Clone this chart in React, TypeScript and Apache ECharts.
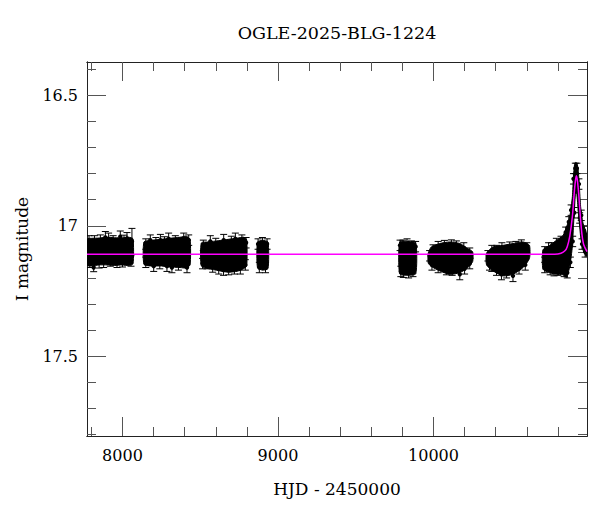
import React, { useEffect, useRef } from "react";
import * as echarts from "echarts";

// ---- Data ----
const TITLE = "OGLE-2025-BLG-1224";
const X_NAME = "HJD - 2450000";
const Y_NAME = "I magnitude";

const X_MIN = 7772;
const X_MAX = 10987;
const Y_MIN = 16.372;
const Y_MAX = 17.806;

const xMajorTicks = [8000, 9000, 10000];
const xMinorTicks = [7800, 8200, 8400, 8600, 8800, 9200, 9400, 9600, 9800, 10200, 10400, 10600, 10800];
const yMajorTicks = [16.5, 17, 17.5];
const yMinorTicks = [16.4, 16.6, 16.7, 16.8, 16.9, 17.1, 17.2, 17.3, 17.4, 17.6, 17.7, 17.8];

// Season envelopes of the dense photometry cloud: [HJD, brightest mag, faintest mag]
const season1 = [[7775, 17.05, 17.152], [7800, 17.048, 17.154], [7850, 17.047, 17.15], [7900, 17.044, 17.15], [7950, 17.046, 17.152], [8000, 17.046, 17.15], [8040, 17.044, 17.152], [8068, 17.05, 17.146]];
const season2 = [[8138, 17.062, 17.148], [8180, 17.056, 17.154], [8250, 17.052, 17.154], [8300, 17.048, 17.158], [8370, 17.044, 17.16], [8410, 17.04, 17.162], [8435, 17.052, 17.15]];
const season3 = [[8507, 17.066, 17.154], [8550, 17.062, 17.164], [8620, 17.057, 17.172], [8680, 17.052, 17.178], [8740, 17.047, 17.174], [8780, 17.044, 17.164], [8799, 17.054, 17.154]];
const season4 = [[8868, 17.062, 17.16], [8900, 17.056, 17.17], [8936, 17.062, 17.164]];
const season5 = [[9782, 17.062, 17.184], [9830, 17.06, 17.19], [9886, 17.066, 17.184]];
const season6 = [[9966, 17.105, 17.143], [9986, 17.081, 17.156], [10040, 17.068, 17.173], [10104, 17.062, 17.186], [10169, 17.068, 17.18], [10222, 17.088, 17.16], [10252, 17.1, 17.137]];
const season7 = [[10341, 17.105, 17.15], [10383, 17.081, 17.173], [10447, 17.075, 17.192], [10511, 17.068, 17.186], [10576, 17.062, 17.16], [10617, 17.075, 17.125]];
const season8 = [[10704, 17.092, 17.167], [10747, 17.075, 17.18], [10790, 17.056, 17.186], [10833, 17.037, 17.188], [10855, 17.005, 17.198], [10876, 16.966, 17.156], [10893, 16.888, 17.079], [10900, 16.81, 17.0], [10907, 16.765, 16.93], [10914, 16.757, 16.87], [10922, 16.76, 16.88], [10930, 16.785, 16.94], [10938, 16.85, 16.99], [10946, 16.926, 17.041], [10961, 16.99, 17.092], [10983, 17.028, 17.118]];

// Individual measurements with visible error bars at the cloud edges: [HJD, mag, error]
const points1 = [[7785, 17.06, 0.022], [7820, 17.058, 0.02], [7858, 17.055, 0.02], [7890, 17.045, 0.023], [7911, 17.05, 0.022], [7940, 17.058, 0.02], [7986, 17.042, 0.022], [8010, 17.056, 0.02], [8029, 17.048, 0.022], [8061, 17.06, 0.05],
  [7790, 17.14, 0.02], [7815, 17.16, 0.016], [7850, 17.142, 0.02], [7879, 17.14, 0.02], [7922, 17.135, 0.02], [7965, 17.14, 0.02], [8000, 17.138, 0.02], [8029, 17.13, 0.02], [8055, 17.135, 0.02]];
const points2 = [[8150, 17.07, 0.02], [8179, 17.055, 0.02], [8215, 17.065, 0.02], [8244, 17.055, 0.022], [8270, 17.062, 0.02], [8297, 17.05, 0.022], [8340, 17.058, 0.02], [8394, 17.05, 0.022], [8426, 17.055, 0.02],
  [8150, 17.14, 0.02], [8201, 17.155, 0.02], [8240, 17.145, 0.02], [8286, 17.155, 0.02], [8318, 17.16, 0.02], [8360, 17.15, 0.02], [8415, 17.16, 0.02]];
const points3 = [[8520, 17.075, 0.02], [8565, 17.06, 0.022], [8600, 17.068, 0.02], [8651, 17.055, 0.022], [8700, 17.06, 0.02], [8726, 17.05, 0.022], [8768, 17.055, 0.02], [8795, 17.065, 0.02],
  [8515, 17.145, 0.02], [8543, 17.145, 0.02], [8580, 17.158, 0.02], [8619, 17.165, 0.02], [8650, 17.17, 0.02], [8683, 17.168, 0.02], [8720, 17.165, 0.02], [8758, 17.165, 0.02], [8790, 17.15, 0.02]];
const points4 = [[8872, 17.07, 0.02], [8900, 17.065, 0.02], [8930, 17.07, 0.02], [8880, 17.16, 0.02], [8920, 17.16, 0.02]];
const points5 = [[9785, 17.075, 0.02], [9804, 17.075, 0.02], [9830, 17.07, 0.02], [9858, 17.078, 0.02], [9885, 17.08, 0.02],
  [9790, 17.175, 0.02], [9806, 17.178, 0.02], [9840, 17.18, 0.02], [9868, 17.175, 0.02]];
const points6 = [[9975, 17.115, 0.02], [9997, 17.093, 0.02], [10030, 17.08, 0.02], [10070, 17.076, 0.02], [10115, 17.075, 0.021], [10147, 17.078, 0.02], [10195, 17.085, 0.02], [10233, 17.105, 0.02],
  [9990, 17.15, 0.02], [10030, 17.16, 0.02], [10083, 17.168, 0.02], [10120, 17.17, 0.02], [10169, 17.186, 0.021], [10200, 17.165, 0.02], [10233, 17.145, 0.02]];
const points7 = [[10350, 17.115, 0.02], [10375, 17.095, 0.02], [10406, 17.095, 0.02], [10440, 17.085, 0.02], [10490, 17.082, 0.02], [10530, 17.08, 0.02], [10565, 17.075, 0.021], [10600, 17.085, 0.02],
  [10360, 17.15, 0.02], [10375, 17.155, 0.02], [10405, 17.17, 0.02], [10437, 17.186, 0.021], [10470, 17.18, 0.02], [10511, 17.192, 0.022], [10550, 17.165, 0.02], [10590, 17.15, 0.02]];
const points8 = [[10715, 17.1, 0.02], [10740, 17.085, 0.02], [10760, 17.085, 0.02], [10790, 17.068, 0.02], [10820, 17.06, 0.02], [10850, 17.025, 0.02], [10870, 16.985, 0.02], [10885, 16.94, 0.02], [10900, 16.82, 0.02], [10912, 16.78, 0.02], [10922, 16.78, 0.02], [10935, 16.84, 0.02], [10950, 16.96, 0.02], [10968, 17.02, 0.02], [10982, 17.05, 0.02],
  [10715, 17.16, 0.02], [10750, 17.168, 0.02], [10775, 17.172, 0.02], [10800, 17.17, 0.02], [10840, 17.175, 0.02], [10860, 17.18, 0.02], [10880, 17.14, 0.02], [10895, 17.06, 0.02], [10905, 16.95, 0.02], [10940, 16.97, 0.02], [10955, 17.07, 0.02], [10975, 17.1, 0.02]];

// Microlensing model curve: [HJD, mag]
const modelCurve = [[7772, 17.109], [10780, 17.109], [10820, 17.105], [10845, 17.096], [10860, 17.08], [10876, 17.041], [10893, 16.964], [10903, 16.888], [10912, 16.83], [10919, 16.808], [10926, 16.83], [10935, 16.888], [10944, 16.964], [10955, 17.035], [10966, 17.073], [10987, 17.099]];

const seasons = [season1, season2, season3, season4, season5, season6, season7, season8];
const errorPoints = [...points1, ...points2, ...points3, ...points4, ...points5, ...points6, ...points7, ...points8];

const FONT = "'DejaVu Serif', serif";
const FRAME = "#222";
const TICK = "#555";

function xAxisDef(position: "bottom" | "top", ticks: number[], len: number, labels: boolean) {
  return {
    type: "value",
    position,
    min: X_MIN,
    max: X_MAX,
    axisLine: { show: true, onZero: false, lineStyle: { color: FRAME, width: 1 } },
    axisTick: { show: true, inside: true, length: len, customValues: ticks, lineStyle: { color: TICK, width: 1 } },
    axisLabel: labels
      ? { show: true, customValues: ticks, margin: 11, color: "#000", fontFamily: FONT, fontSize: 16, formatter: (v: number) => String(v) }
      : { show: false },
    splitLine: { show: false },
  };
}

function yAxisDef(position: "left" | "right", ticks: number[], len: number, labels: boolean) {
  return {
    type: "value",
    position,
    inverse: true,
    min: Y_MIN,
    max: Y_MAX,
    axisLine: { show: true, onZero: false, lineStyle: { color: FRAME, width: 1 } },
    axisTick: { show: true, inside: true, length: len, customValues: ticks, lineStyle: { color: TICK, width: 1 } },
    axisLabel: labels
      ? { show: true, customValues: ticks, margin: 9, color: "#000", fontFamily: FONT, fontSize: 16, formatter: (v: number) => String(v) }
      : { show: false },
    splitLine: { show: false },
  };
}

export default function App() {
  const ref = useRef<HTMLDivElement>(null);

  useEffect(() => {
    if (!ref.current) return;
    const chart = echarts.init(ref.current, undefined, { renderer: "svg" });

    const option = {
      animation: false,
      backgroundColor: "#fff",
      grid: { left: 87, right: 13, top: 62, bottom: 76, containLabel: false },
      xAxis: [
        xAxisDef("bottom", xMajorTicks, 19, true),
        xAxisDef("bottom", xMinorTicks, 9, false),
        xAxisDef("top", xMajorTicks, 19, false),
        xAxisDef("top", xMinorTicks, 9, false),
      ],
      yAxis: [
        yAxisDef("left", yMajorTicks, 19, true),
        yAxisDef("left", yMinorTicks, 9, false),
        yAxisDef("right", yMajorTicks, 19, false),
        yAxisDef("right", yMinorTicks, 9, false),
      ],
      graphic: [
        {
          type: "text",
          x: 337,
          y: 33,
          style: { text: TITLE, font: `17.5px ${FONT}`, fill: "#000", textAlign: "center", textVerticalAlign: "middle" },
        },
        {
          type: "text",
          x: 337,
          y: 489,
          style: { text: X_NAME, font: `17px ${FONT}`, fill: "#000", textAlign: "center", textVerticalAlign: "middle" },
        },
        {
          type: "text",
          x: 22,
          y: 249,
          rotation: Math.PI / 2,
          style: { text: Y_NAME, font: `17px ${FONT}`, fill: "#000", textAlign: "center", textVerticalAlign: "middle" },
        },
      ],
      series: [
        {
          type: "custom",
          name: "cloud",
          xAxisIndex: 0,
          yAxisIndex: 0,
          clip: true,
          encode: { x: 0, y: 1 },
          data: seasons.map((s, i) => [s[0][0], s[0][1], i]),
          renderItem: (params: any, api: any) => {
            const s = seasons[api.value(2)];
            const top = s.map((p) => api.coord([p[0], p[1]]));
            const bottom = s.map((p) => api.coord([p[0], p[2]])).reverse();
            return {
              type: "polygon",
              shape: { points: [...top, ...bottom], smooth: 0.2 },
              style: { fill: "#000", stroke: "#000", lineWidth: 1, lineJoin: "round" },
            };
          },
          z: 2,
        },
        {
          type: "custom",
          name: "errors",
          xAxisIndex: 0,
          yAxisIndex: 0,
          clip: true,
          encode: { x: 0, y: 1 },
          data: errorPoints,
          renderItem: (params: any, api: any) => {
            const t = api.value(0);
            const m = api.value(1);
            const e = api.value(2);
            const a = api.coord([t, m - e]);
            const b = api.coord([t, m + e]);
            const c = api.coord([t, m]);
            const st = { stroke: "#000", lineWidth: 1 };
            return {
              type: "group",
              children: [
                { type: "line", shape: { x1: a[0], y1: a[1], x2: b[0], y2: b[1] }, style: st },
                { type: "line", shape: { x1: a[0] - 3.5, y1: a[1], x2: a[0] + 3.5, y2: a[1] }, style: st },
                { type: "line", shape: { x1: b[0] - 3.5, y1: b[1], x2: b[0] + 3.5, y2: b[1] }, style: st },
                { type: "circle", shape: { cx: c[0], cy: c[1], r: 2.2 }, style: { fill: "#000" } },
              ],
            };
          },
          z: 3,
        },
        {
          type: "line",
          name: "model",
          xAxisIndex: 0,
          yAxisIndex: 0,
          data: modelCurve,
          showSymbol: false,
          smooth: 0.3,
          lineStyle: { color: "#ff00ff", width: 1.5 },
          z: 4,
        },
      ],
    };

    chart.setOption(option as any);
    return () => chart.dispose();
  }, []);

  return (
    <div
      ref={ref}
      style={{ position: "fixed", left: 0, top: 0, width: 600, height: 512, background: "#fff" }}
    />
  );
}
